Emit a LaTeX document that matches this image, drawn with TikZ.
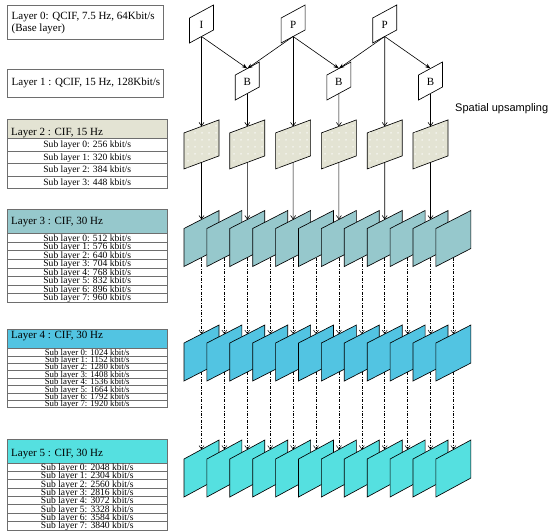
\documentclass[tikz,border=0pt]{standalone}
\usepackage{fontspec}
\setmainfont{Liberation Serif}
\newfontfamily\spatialfont{Liberation Sans}
\usetikzlibrary{arrows.meta,patterns.meta}
\definecolor{tline}{HTML}{6E6E6E}
\definecolor{cTwo}{HTML}{E3E3D3}
\definecolor{cThree}{HTML}{96C8CC}
\definecolor{cFour}{HTML}{52C4E2}
\definecolor{cFive}{HTML}{55E0E0}
\tikzset{
  pics/frame/.style args={#1/#2/#3/#4}{code={
    \path[#4] ({-#1/2},{-#2/2+#3/2}) -- ({#1/2},{-#2/2-#3/2}) -- ({#1/2},{#2/2-#3/2}) -- ({-#1/2},{#2/2+#3/2}) -- cycle;
    \coordinate (-top) at (0,{-#2/2});
    \coordinate (-bot) at (0,{#2/2});
  }},
  frm/.style={draw=black, line width=0.65pt, line join=miter},
  fwhite/.style={frm, fill=white},
  ftwo/.style={frm, fill=cTwo, postaction={pattern={Dots[distance=6.5pt, radius=0.8pt]}, pattern color=white}},
  fthree/.style={frm, fill=cThree},
  ffour/.style={frm, fill=cFour},
  ffive/.style={frm, fill=cFive},
  ftext/.style={inner sep=0pt, font=\fontsize{11}{12}\selectfont},
  conn/.style={line width=0.6pt, -{Straight Barb[length=3.5pt,width=5pt]}},
  diag/.style={line width=0.6pt, -{Stealth[length=5.5pt,width=4pt]}},
  dd/.style={line width=0.5pt, dash pattern=on 3pt off 1.5pt on 0.8pt off 1.5pt, -{Straight Barb[length=3.5pt,width=5pt]}},
  lbox/.style={draw=tline, line width=0.6pt, anchor=north west, inner sep=0pt, minimum width=156pt},
  hdr/.style={draw=tline, line width=0.6pt, anchor=north west, inner sep=0pt, minimum width=160pt},
  rowbox/.style={draw=tline, line width=0.5pt, anchor=north west, inner sep=0pt, minimum width=160pt, font=\fontsize{9.6}{9.6}\selectfont, text height=6.4pt, text depth=0pt},
  rowsmall/.style={rowbox, font=\fontsize{8.8}{8.8}\selectfont, text height=5.9pt},
  htext/.style={anchor=base west, inner sep=0pt, font=\fontsize{11}{12}\selectfont},
}
\begin{document}
\begin{tikzpicture}[x=1pt,y=-1pt]
\useasboundingbox (0,0) rectangle (551,531);

% ---------- left tables ----------
\node[lbox, minimum height=34pt] (L0) at (7,5) {};
\node[htext] (L0a) at (11.5,19.5) {Layer 0: QCIF, 7.5 Hz, 64Kbit/s};
\node[htext] (L0b) at (11.5,31) {(Base layer)};

\node[lbox, minimum height=27.7pt] (L1) at (7,69) {};
\node[htext] (L1a) at (11.5,85) {Layer 1 : QCIF, 15 Hz, 128Kbit/s};

\node[hdr, fill=cTwo, minimum height=19pt] (L2h) at (7,119.3) {};
\node[htext] (L2ht) at (11,135.3) {Layer 2 : CIF, 15 Hz};
\foreach \i/\v in {0/256,1/320,2/384,3/448}
  \node[rowbox, minimum height=12.43pt] (L2r\i) at (7,{138.3+12.43*\i}) {Sub layer \i: \v\ kbit/s};

\node[hdr, fill=cThree, minimum height=24pt] (L3h) at (7,209.3) {};
\node[htext] (L3ht) at (11,224.5) {Layer 3 : CIF, 30 Hz};
\foreach \i/\v in {0/512,1/576,2/640,3/704,4/768,5/832,6/896,7/960}
  \node[rowbox, minimum height=8.55pt] (L3r\i) at (7,{233.3+8.55*\i}) {Sub layer \i: \v\ kbit/s};

\node[hdr, fill=cFour, minimum height=19pt] (L4h) at (7,329.3) {};
\node[htext] (L4ht) at (11,338.8) {Layer 4 : CIF, 30 Hz};
\foreach \i/\v in {0/1024,1/1152,2/1280,3/1408,4/1536,5/1664,6/1792,7/1920}
  \node[rowsmall, minimum height=7.375pt] (L4r\i) at (7,{348.3+7.375*\i}) {Sub layer \i: \v\ kbit/s};

\node[hdr, fill=cFive, minimum height=23.4pt] (L5h) at (7,439.3) {};
\node[htext] (L5ht) at (11,456.4) {Layer 5 : CIF, 30 Hz};
\foreach \i/\v in {0/2048,1/2304,2/2560,3/2816,4/3072,5/3328,6/3584,7/3840}
  \node[rowbox, minimum height=8.35pt] (L5r\i) at (7,{462.7+8.35*\i}) {Sub layer \i: \v\ kbit/s};

% ---------- top frames ----------
\pic (I)  at (201.5,24) {frame=24/25/13/fwhite};
\pic (P1) at (293.1,24) {frame=24/25/13/fwhite};
\pic (P2) at (384.7,24) {frame=24/25/13/fwhite};
\pic (B1) at (247.3,81) {frame=24/25/13/fwhite};
\pic (B2) at (338.9,81) {frame=24/25/13/fwhite};
\pic (B3) at (430.5,81) {frame=24/25/13/fwhite};
\node[ftext] (It)  at (201.5,24.5) {I};
\node[ftext] (P1t) at (293.1,24.5) {P};
\node[ftext] (P2t) at (384.7,24.5) {P};
\node[ftext] (B1t) at (247.3,81.5) {B};
\node[ftext] (B2t) at (338.9,81.5) {B};
\node[ftext] (B3t) at (430.5,81.5) {B};

% ---------- layer frames ----------
\foreach \i in {0,...,5}
  \pic (L2f\i) at ({201.5+45.8*\i},144.4) {frame=35/36/13/ftwo};
\foreach \i in {0,...,11}
  \pic (L3f\i) at ({201.5+22.9*\i},238.5) {frame=35/38/18/fthree};
\foreach \i in {0,...,11}
  \pic (L4f\i) at ({201.5+22.9*\i},353) {frame=35/38/18/ffour};
\foreach \i in {0,...,11}
  \pic (L5f\i) at ({201.5+22.9*\i},468.5) {frame=35/38/19/ffive};

\node[anchor=base west, inner sep=0pt, font=\spatialfont\fontsize{11}{13}\selectfont] (SU) at (455,111) {Spatial upsampling};

% ---------- connectors ----------
\draw[diag] (I-bot) -- (B1-top);
\draw[diag] (P1-bot) -- (B1-top);
\draw[diag] (P1-bot) -- (B2-top);
\draw[diag] (P2-bot) -- (B2-top);
\draw[diag] (P2-bot) -- (B3-top);

\draw[conn] (I-bot) -- (L2f0-top);
\draw[conn] (B1-bot) -- (L2f1-top);
\draw[conn] (P1-bot) -- (L2f2-top);
\draw[conn] (B2-bot) -- (L2f3-top);
\draw[conn] (P2-bot) -- (L2f4-top);
\draw[conn] (B3-bot) -- (L2f5-top);

\foreach \i in {0,...,5} {
  \pgfmathtruncatemacro\jj{2*\i}
  \draw[conn] (L2f\i-bot) -- (L3f\jj-top);
}
\foreach \i in {0,...,11} {
  \draw[dd] (L3f\i-bot) -- (L4f\i-top);
  \draw[dd] (L4f\i-bot) -- (L5f\i-top);
}
\end{tikzpicture}
\end{document}
